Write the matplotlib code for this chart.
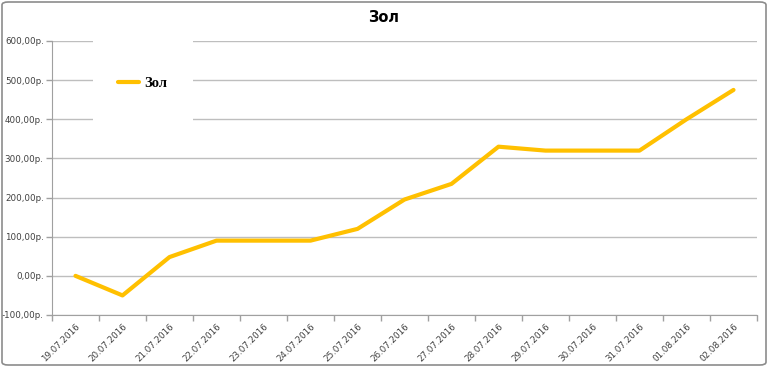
import matplotlib
matplotlib.use("Agg")
import matplotlib.pyplot as plt
from matplotlib.patches import FancyBboxPatch, Rectangle
from matplotlib.lines import Line2D

dates = ["19.07.2016", "20.07.2016", "21.07.2016", "22.07.2016", "23.07.2016",
         "24.07.2016", "25.07.2016", "26.07.2016", "27.07.2016", "28.07.2016",
         "29.07.2016", "30.07.2016", "31.07.2016", "01.08.2016", "02.08.2016"]
values = [0, -50, 48, 90, 90, 90, 120, 195, 235, 330, 320, 320, 320, 400, 475]
yticks = [-100, 0, 100, 200, 300, 400, 500, 600]

W, H = 768, 367
fig = plt.figure(figsize=(W / 100, H / 100), dpi=100)
ax = fig.add_axes([52 / W, 1 - 315 / H, 705 / W, 274 / H])

x = list(range(len(values)))
ax.plot(x, values, color="#FFC000", lw=3.0, solid_capstyle="round",
        solid_joinstyle="round", zorder=3)

ax.set_xlim(-0.5, len(values) - 0.5)
ax.set_ylim(-100, 600)
ax.set_yticks(yticks)
ax.set_yticklabels([f"{v},00р." for v in yticks], fontsize=6.3, color="#404040")
ax.yaxis.grid(True, color="#BEBEBE", lw=1)
ax.set_axisbelow(True)

ax.set_xticks([i - 0.5 for i in range(len(values) + 1)])
ax.set_xticklabels([])
ax.set_xticks(x, minor=True)
ax.set_xticklabels(dates, minor=True, rotation=45, ha="right", va="top",
                   rotation_mode="anchor", fontsize=6.3, color="#404040")
ax.tick_params(axis="x", which="minor", length=0, pad=5)
ax.tick_params(axis="x", which="major", length=4, color="#A0A0A0", width=1)
ax.tick_params(axis="y", length=4, color="#A0A0A0", width=1, pad=2)

for s in ["top", "right"]:
    ax.spines[s].set_visible(False)
ax.spines["left"].set_color("#A0A0A0")
ax.spines["bottom"].set_color("#A0A0A0")

fig.text(0.5, 1 - 17 / H, "Зол", ha="center", va="center",
         fontsize=10.5, fontweight="bold", family="DejaVu Sans")

# white legend area that hides the gridlines behind it
ax.add_patch(Rectangle(((93 - 52) / 705, (315 - 126) / 274), 100 / 705, 94 / 274,
                       transform=ax.transAxes, facecolor="white", edgecolor="none",
                       zorder=2, clip_on=False))
ax.legend([Line2D([0], [0], color="#FFC000", lw=3.0, solid_capstyle="round")],
          ["Зол"], loc="center", bbox_to_anchor=(143 / W, 1 - 83 / H),
          bbox_transform=fig.transFigure, frameon=False,
          prop={"family": "Liberation Serif", "weight": "bold", "size": 10.5},
          handlelength=1.4, handletextpad=0.4)

border = FancyBboxPatch((2 / W, 2 / H), 764 / W, 363 / H,
                        boxstyle="round,pad=0,rounding_size=0.008",
                        transform=fig.transFigure, fill=False,
                        edgecolor="#8C8C8C", lw=1.2)
fig.patches.append(border)

fig.savefig("out.png", dpi=100)
